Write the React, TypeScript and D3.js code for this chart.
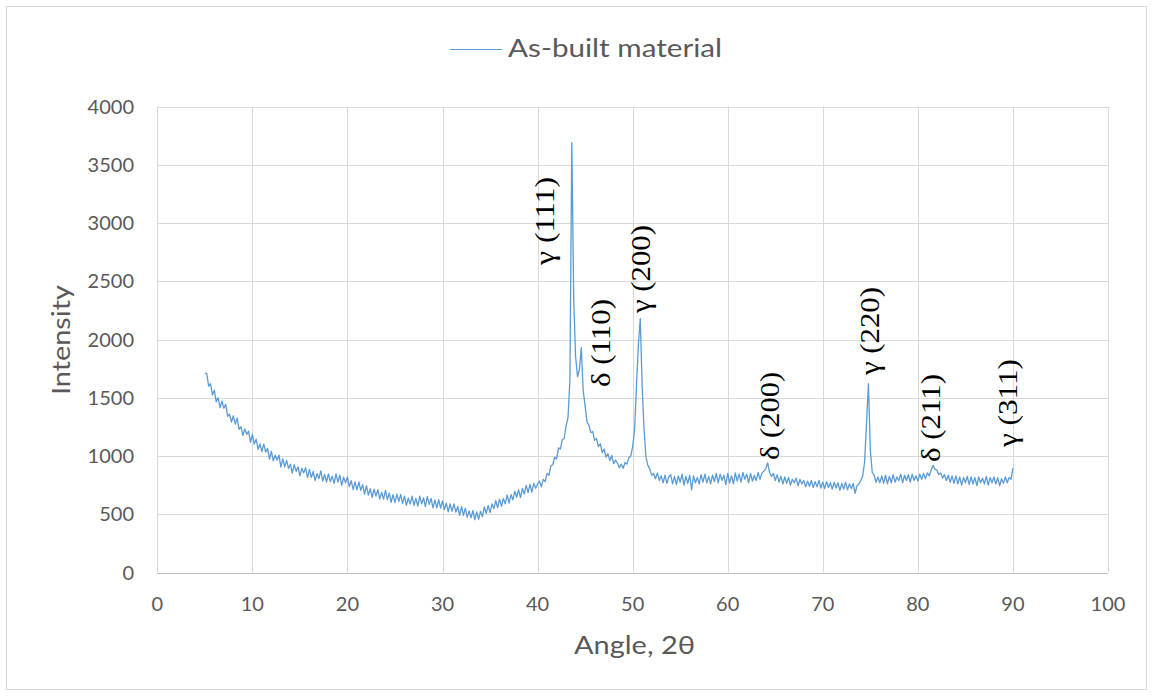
import * as d3 from "d3"

// XRD scan: fixed step from 5° to 90° (2θ)
const angleStart = 5
const angleStep = 0.2

// 5.0° – 40.0°
const lowAngleCounts = [
	1710, 1710, 1600, 1620, 1525,
	1565, 1465, 1500, 1415, 1470,
	1410, 1443, 1341, 1359, 1292,
	1345, 1273, 1326, 1229, 1252,
	1175, 1233, 1186, 1214, 1117,
	1185, 1102, 1144, 1056, 1103,
	1040, 1102, 1034, 1066, 973,
	1040, 958, 1006, 964, 1007,
	905, 976, 907, 963, 894,
	930, 853, 926, 869, 907,
	830, 895, 855, 900, 815,
	885, 816, 867, 788, 849,
	805, 872, 785, 842, 775,
	847, 780, 827, 765, 847,
	775, 836, 747, 818, 769,
	820, 737, 789, 711, 778,
	710, 778, 706, 754, 672,
	745, 665, 720, 645, 715,
	655, 711, 632, 688, 629,
	705, 626, 682, 603, 669,
	600, 672, 609, 671, 593,
	655, 577, 640, 587, 655,
	577, 636, 570, 655, 589,
	640, 565, 653, 585, 635,
	555, 622, 554, 626, 553,
	615, 540, 595, 520, 590,
	525, 589, 518, 567, 491,
	565, 491, 552, 473, 529,
	470, 532, 453, 520, 457,
	525, 479, 563, 507, 576,
	515, 589, 548, 617, 556,
	630, 568, 636, 589, 667,
	595, 669, 623, 697, 646,
	710, 643, 721, 674, 747,
	685, 757, 689, 766, 723,
	760,
]

// 40.2° – 52.0°: γ(111), δ(110), γ(200)
const peakRegionCounts = [
	785, 735, 800, 780,
	850, 835, 915, 925, 990,
	975, 1070, 1060, 1140, 1150,
	1260, 1330, 1650, 3690, 2350,
	1850, 1680, 1740, 1930, 1560,
	1430, 1290, 1265, 1200, 1210,
	1135, 1150, 1080, 1105, 1030,
	1060, 990, 1020, 960, 1005,
	935, 965, 940, 900, 930,
	895, 945, 930, 985, 1000,
	1080, 1220, 1600, 1950, 2180,
	1600, 1230, 990, 920, 890,
	835,
]

// 52.2° – 90.0°: δ(200), γ(220), δ(211), γ(311)
const highAngleCounts = [
	850, 805, 855, 790,
	830, 770, 835, 765, 820,
	840, 760, 825, 755, 830,
	775, 845, 750, 825, 765,
	835, 710, 830, 770, 815,
	760, 840, 775, 845, 770,
	825, 760, 835, 780, 850,
	770, 845, 790, 835, 755,
	850, 770, 830, 760, 855,
	785, 845, 775, 860, 800,
	845, 770, 850, 785, 835,
	790, 860, 800, 855, 870,
	890, 940, 860, 825, 850,
	790, 840, 775, 825, 760,
	820, 765, 815, 750, 800,
	770, 810, 745, 800, 760,
	790, 735, 785, 740, 790,
	730, 780, 735, 790, 725,
	775, 720, 780, 730, 770,
	715, 775, 725, 770, 705,
	765, 715, 775, 710, 760,
	720, 765, 680, 745, 760,
	790, 830, 950, 1280, 1620,
	1050, 860, 835, 775, 820,
	770, 830, 765, 835, 760,
	825, 770, 840, 775, 820,
	790, 845, 770, 835, 790,
	840, 775, 845, 790, 830,
	785, 845, 800, 850, 805,
	855, 830, 880, 920, 885,
	880, 840, 855, 810, 840,
	790, 835, 775, 830, 765,
	830, 760, 820, 750, 815,
	770, 825, 755, 820, 760,
	815, 745, 820, 770, 810,
	760, 825, 750, 815, 770,
	820, 760, 815, 745, 805,
	765, 820, 770, 815, 800,
	895,
]

const xTicks = [0, 10, 20, 30, 40, 50, 60, 70, 80, 90, 100]
const yTicks = [0, 500, 1000, 1500, 2000, 2500, 3000, 3500, 4000]

const seriesName = "As-built material"
const xTitle = "Angle, 2θ"
const yTitle = "Intensity"

// peak annotations, anchored in data space (start of the vertical text)
const peakNames = ["γ (111)", "δ (110)", "γ (200)", "δ (200)", "γ (220)", "δ (211)", "γ (311)"]
const peakNameAngles = [41.7, 47.6, 51.8, 65.4, 75.9, 82.3, 90.4]
const peakNameIntensities = [2640, 1592, 2227, 966, 1695, 948, 1077]

const W = 1153
const H = 696
const plot = { left: 157.3, right: 1108, top: 106.5, bottom: 572.5 }
const gridColor = "#d9d9d9"
const textColor = "#595959"
const lineColor = "#5b9bd5"
const sans = "Lato, 'Open Sans', sans-serif"

export default function App() {
	const counts = [...lowAngleCounts, ...peakRegionCounts, ...highAngleCounts]
	const points: [number, number][] = counts.map((c, i) => [angleStart + i * angleStep, c])

	const x = d3.scaleLinear().domain([0, 100]).range([plot.left, plot.right])
	const y = d3.scaleLinear().domain([0, 4000]).range([plot.bottom, plot.top])

	const path = d3.line<[number, number]>()
		.x(d => x(d[0]))
		.y(d => y(d[1]))(points) || ""

	return (
		<svg width={W} height={H} style={{ position: "absolute", left: 0, top: 0, background: "#fff" }}>
			<rect x={6.5} y={6.5} width={1140} height={683} fill="#fff" stroke={gridColor} />

			{/* grid */}
			{yTicks.map(t => (
				<line key={"h" + t} x1={plot.left} x2={plot.right} y1={Math.round(y(t)) + 0.5} y2={Math.round(y(t)) + 0.5}
					stroke={t === 0 ? "#bfbfbf" : gridColor} strokeWidth={1} />
			))}
			{xTicks.map(t => (
				<line key={"v" + t} x1={Math.round(x(t)) + 0.5} x2={Math.round(x(t)) + 0.5} y1={plot.top} y2={plot.bottom}
					stroke={gridColor} strokeWidth={1} />
			))}

			{/* tick labels */}
			{yTicks.map(t => (
				<text key={"yl" + t} x={134} y={y(t) + 7} textAnchor="end" fontFamily={sans} fontSize={20} fill={textColor}>{t}</text>
			))}
			{xTicks.map(t => (
				<text key={"xl" + t} x={x(t)} y={611} textAnchor="middle" fontFamily={sans} fontSize={20} fill={textColor}>{t}</text>
			))}

			{/* axis titles */}
			<text x={574} y={654} fontFamily={sans} fontSize={25} fill={textColor}
				textLength={121} lengthAdjust="spacingAndGlyphs">{xTitle}</text>
			<text transform={`translate(69.5, 395) rotate(-90)`} fontFamily={sans} fontSize={25} fill={textColor}
				textLength={110} lengthAdjust="spacingAndGlyphs">{yTitle}</text>

			{/* legend */}
			<line x1={450} x2={502} y1={49.5} y2={49.5} stroke={lineColor} strokeWidth={1} />
			<text x={508} y={57} fontFamily={sans} fontSize={25} fill={textColor}
				textLength={214} lengthAdjust="spacingAndGlyphs">{seriesName}</text>

			{/* series */}
			<path d={path} fill="none" stroke={lineColor} strokeWidth={1.3} strokeLinejoin="round" />

			{/* peak labels */}
			{peakNames.map((n, i) => (
				<text key={n + i} transform={`translate(${x(peakNameAngles[i])}, ${y(peakNameIntensities[i])}) rotate(-90)`}
					fontFamily="'Liberation Serif', 'Times New Roman', serif" fontSize={27} fill="#000"
					textLength={88} lengthAdjust="spacingAndGlyphs">{n}</text>
			))}
		</svg>
	)
}
